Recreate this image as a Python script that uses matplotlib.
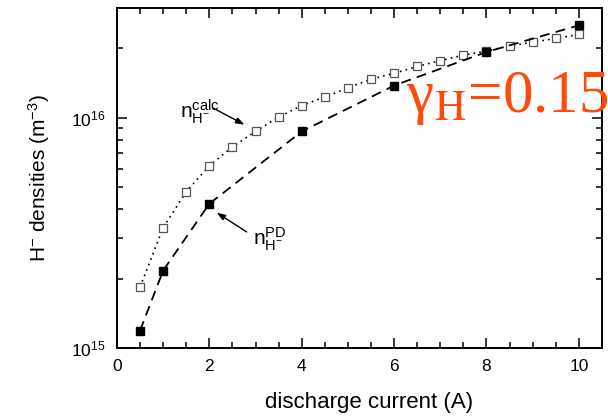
import matplotlib
matplotlib.use("Agg")
import matplotlib.pyplot as plt
from matplotlib.ticker import MultipleLocator, LogLocator, NullFormatter

plt.rcParams["font.family"] = ["Liberation Sans", "DejaVu Sans"]
plt.rcParams["mathtext.fontset"] = "custom"
plt.rcParams["mathtext.rm"] = "Liberation Sans"
plt.rcParams["mathtext.it"] = "Liberation Sans:italic"
plt.rcParams["mathtext.bf"] = "Liberation Sans:bold"

# discharge current (A)
current_pd = [0.5, 1, 2, 4, 6, 8, 10]
# photodetachment H- density (m^-3)
n_pd = [1.19e15, 2.17e15, 4.23e15, 8.72e15, 1.38e16, 1.93e16, 2.52e16]

current_calc = [0.5, 1.0, 1.5, 2.0, 2.5, 3.0, 3.5, 4.0, 4.5, 5.0,
                5.5, 6.0, 6.5, 7.0, 7.5, 8.0, 8.5, 9.0, 9.5, 10.0]
n_calc = [1.84e15, 3.33e15, 4.78e15, 6.18e15, 7.48e15, 8.72e15, 1.007e16,
          1.13e16, 1.23e16, 1.35e16, 1.47e16, 1.56e16, 1.67e16, 1.77e16,
          1.87e16, 1.95e16, 2.05e16, 2.13e16, 2.21e16, 2.30e16]

fig = plt.figure(figsize=(6.08, 4.16), dpi=100)
ax = fig.add_axes([0.1924, 0.1635, 0.7976, 0.8175])

ax.plot(current_calc, n_calc, linestyle=(0, (1, 2.5)), color="black", lw=1.2,
        marker="s", markersize=5.2, markerfacecolor="white",
        markeredgecolor="#555555", markeredgewidth=0.9, zorder=2)
ax.plot(current_pd, n_pd, linestyle=(0, (5.5, 3.5)), color="black", lw=1.3,
        marker="s", markersize=5.5, markerfacecolor="black",
        markeredgecolor="black", zorder=3)

ax.set_yscale("log")
ax.set_xlim(0, 10.5)
ax.set_ylim(1e15, 3e16)

ax.xaxis.set_major_locator(MultipleLocator(2))
ax.xaxis.set_minor_locator(MultipleLocator(0.5))
ax.yaxis.set_major_locator(LogLocator(base=10))
ax.yaxis.set_minor_locator(LogLocator(base=10, subs=range(2, 10)))
ax.yaxis.set_minor_formatter(NullFormatter())

ax.tick_params(which="both", direction="in", top=True, right=True,
               labelsize=12.5, width=1.1)
ax.tick_params(which="major", length=7, pad=8)
ax.tick_params(which="minor", length=4)
for sp in ax.spines.values():
    sp.set_linewidth(1.4)

ax.set_xlabel("discharge current (A)", fontsize=16)
ax.xaxis.set_label_coords(0.52, -0.128)
ax.set_ylabel(r"H$^{\mathrm{-}}$ densities (m$^{\mathrm{-3}}$)", fontsize=15,
              labelpad=14)

# annotation: calculated
ax.annotate("", xy=(2.76, 9.33e15), xytext=(2.07, 1.105e16),
            arrowprops=dict(arrowstyle="-|>,head_length=0.5,head_width=0.18",
                            color="black", lw=1.0, shrinkA=0, shrinkB=0))
ax.text(1.36, 1.0e16, r"n$^{\mathrm{calc}}_{\mathrm{H^{-}}}$", fontsize=15,
        ha="left", va="baseline")

# annotation: photodetachment
ax.annotate("", xy=(2.16, 3.87e15), xytext=(2.81, 3.19e15),
            arrowprops=dict(arrowstyle="-|>,head_length=0.5,head_width=0.18",
                            color="black", lw=1.0, shrinkA=0, shrinkB=0))
ax.text(2.94, 2.8e15, r"n$^{\mathrm{PD}}_{\mathrm{H^{-}}}$", fontsize=15,
        ha="left", va="baseline")

# gamma label
ax.text(6.26, 1.06e16, r"γ$_{\mathrm{H}}$=0.15", fontsize=44,
        family=["Liberation Serif", "DejaVu Serif"], math_fontfamily="stix",
        color="#ff4a0a", ha="left", va="baseline", clip_on=False)

fig.savefig("out.png", dpi=100)
